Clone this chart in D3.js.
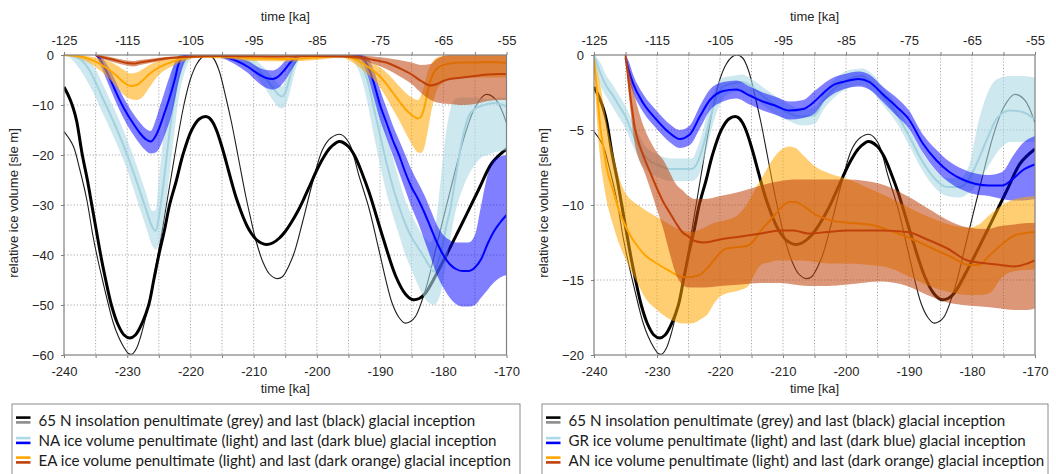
<!DOCTYPE html>
<html>
<head>
<meta charset="utf-8">
<script src="https://cdn.jsdelivr.net/npm/d3@7"></script>
<style>
  body { margin: 0; background: #fff; }
  svg { display: block; }
</style>
</head>
<body>
<svg id="chart" width="1056" height="474"></svg>
<script>
// ---- axis ticks ----------------------------------------------------------
const lastTimeTicks = d3.range(-125, -54, 5);     // last glacial inception (top axis, ka)
const penultTimeTicks = d3.range(-240, -169, 5);  // penultimate glacial inception (bottom axis, ka)
const leftIceTicks = [0, -10, -20, -30, -40, -50, -60];
const rightIceTicks = [0, -5, -10, -15, -20];

// ---- 65 N summer insolation, drawn on a scaled axis [t, value] ------------
const insolationLast = [
  [-125, -6.4], [-124.5, -7.6], [-124, -9.0], [-123.5, -10.8], [-123, -13.2], [-122.1, -20],
  [-121.3, -25], [-120.6, -30], [-119.9, -35], [-119.2, -40], [-118.4, -45], [-117.5, -50],
  [-116.5, -53.8], [-115.5, -56], [-114.6, -56.6], [-113.7, -56], [-112.6, -53.5], [-111.6, -50],
  [-110.8, -45], [-110, -40], [-109.1, -35], [-108.3, -30], [-107.2, -25], [-106.2, -20],
  [-104.8, -15], [-103.6, -12.8], [-102.6, -12.3], [-102, -12.6], [-101.4, -13.6], [-100.8, -15.3],
  [-100.2, -17.6], [-99.6, -20.2], [-99, -23], [-98.4, -25.8], [-97.8, -28.4], [-97.2, -30.6],
  [-96.6, -32.6], [-96, -34.3], [-95.3, -35.8], [-94.6, -36.9], [-93.8, -37.6], [-93, -37.9],
  [-92, -37.6], [-91, -36.7], [-90, -35.3], [-89, -33.4], [-88, -31.2], [-87, -28.6], [-86, -25.8],
  [-85, -23.0], [-84, -20.6], [-83, -18.7], [-82, -17.6], [-81.5, -17.3], [-81, -17.4], [-80, -18.3],
  [-79, -20.2], [-77.8, -23.8], [-76.7, -27.6], [-74.6, -36.3], [-72.5, -44.3], [-71, -47.8],
  [-69.9, -48.9], [-68.8, -48.7], [-67.8, -47.6], [-65.7, -42.9], [-62.5, -34.9], [-59.4, -26.9],
  [-57.3, -21.6], [-55, -18.8]
];
const insolationPenult = [
  [-240, -15.3], [-239.3, -16.5], [-238.5, -18.3], [-237.5, -22.9], [-236.4, -28.9], [-235.4, -36.3],
  [-234.6, -41.2], [-233.8, -45.6], [-233, -49.8], [-232.2, -53.6], [-231.4, -56.3], [-230.6, -58.3],
  [-229.8, -59.7], [-229.2, -59.8], [-228.5, -58.6], [-227.8, -56], [-227, -52], [-226, -46],
  [-225, -39], [-224, -31.5], [-223, -24], [-222, -16.5], [-221, -9.8], [-220, -4.8], [-219, -1.8],
  [-218.2, -0.5], [-217.3, 0], [-216.4, -0.6], [-215.5, -3], [-214.3, -9], [-213.5, -13.5],
  [-212.5, -20], [-211.2, -28.5], [-210.5, -32.5], [-209.6, -37.3], [-208.5, -41.5], [-207.5, -43.8],
  [-206.4, -44.7], [-205.5, -44.4], [-203.8, -40.3], [-202.3, -33.6], [-200.7, -25.6], [-199.1, -18.9],
  [-197.8, -16.6], [-196.2, -15.9], [-194.9, -17.6], [-193.3, -24.3], [-191.7, -30.9], [-190.2, -38.9],
  [-188.1, -49.6], [-187, -52.5], [-186.1, -53.6], [-185.2, -53.3], [-184.4, -52.3], [-182.8, -46.9],
  [-180.7, -36.3], [-178.6, -25.6], [-176.5, -15.6], [-174.9, -10.3], [-173.3, -7.9], [-171.7, -8.9],
  [-170, -13.6]
];

// ---- ice volume [t, median, upper, lower] in sle m ------------------------
// North America
const naPenult = [
  [-240, 0, 0, 0], [-239, -0.1, 0, -0.6], [-238, -0.5, 0, -2.0], [-237, -1.3, -0.2, -3.8],
  [-236, -3.0, -1.0, -6.0], [-235, -5.5, -2.8, -8.5], [-234, -8.3, -5.5, -11.3], [-233, -11.0, -8.2, -14.0],
  [-232, -13.8, -10.9, -16.8], [-231, -16.8, -13.8, -19.8], [-230, -20.0, -17.0, -23.0], [-229, -23.5, -20.3, -26.8],
  [-228, -27.2, -24.0, -30.7], [-227, -31.0, -27.7, -34.5], [-226, -34.5, -31.2, -38.2], [-225.5, -35.2, -31.0, -38.9],
  [-225, -32.5, -25.0, -38.0], [-224.5, -28.0, -19.0, -35.5], [-224, -23.0, -13.0, -31.0], [-223.5, -17.5, -8.0, -26.0],
  [-223, -12.5, -4.0, -20.5], [-222.5, -8.5, -1.5, -15.0], [-222, -5.3, -0.4, -10.0], [-221.5, -3.0, 0, -6.3],
  [-221, -1.5, 0, -3.8], [-220.5, -0.6, 0, -2.0], [-220, -0.1, 0, -0.8], [-219, 0, 0, 0],
  [-214, 0, 0, 0], [-212, -0.5, 0, -1.5], [-210, -2.0, -0.8, -3.5], [-208, -4.8, -3.0, -7.0],
  [-207, -6.5, -4.5, -9.0], [-206, -8.0, -6.0, -10.5], [-205.5, -8.3, -6.3, -10.7], [-205, -7.5, -5.0, -10.2],
  [-204.5, -5.5, -3.0, -8.5], [-204, -3.2, -1.2, -6.0], [-203.5, -1.5, -0.2, -3.5], [-203, -0.5, 0, -1.5],
  [-202.5, 0, 0, -0.4], [-202, 0, 0, 0], [-195, 0, 0, 0], [-194, -0.3, 0, -1.5],
  [-193, -1.8, -0.3, -4.5], [-192, -5.0, -1.5, -9.5], [-191, -10.5, -5.0, -16.0], [-190, -16.0, -10.0, -22.0],
  [-189, -21.5, -15.5, -27.5], [-188, -26.3, -20.5, -32.0], [-187, -30.3, -25.0, -36.0], [-186, -33.8, -29.0, -40.0],
  [-185, -36.5, -32.0, -43.0], [-184, -38.5, -34.5, -46.0], [-183, -40.5, -36.5, -48.5], [-182, -42.6, -37.5, -49.8],
  [-181.5, -43.3, -36.0, -50.0], [-181, -42.0, -32.0, -49.5], [-180.5, -40.0, -26.0, -48.0], [-180, -37.5, -20.0, -45.0],
  [-179.5, -34.0, -15.0, -41.0], [-179, -31.5, -11.5, -37.5], [-178.5, -28.0, -9.5, -34.0], [-178, -24.0, -8.7, -31.0],
  [-177, -16.9, -8.5, -27.0], [-176, -12.3, -8.5, -24.0], [-175, -10.8, -8.5, -22.0], [-174, -10.2, -8.7, -20.5],
  [-173, -9.8, -8.8, -20.0], [-172, -9.6, -8.7, -19.5], [-171, -9.8, -8.5, -19.2], [-170, -10.3, -8.5, -19.0]
];
const naLast = [
  [-120, 0, 0, 0], [-119.5, -0.5, 0, -1.2], [-119, -1.5, -0.5, -2.7], [-118, -4.0, -2.3, -5.8],
  [-117, -6.8, -4.8, -8.8], [-116, -9.5, -7.5, -11.6], [-115, -11.8, -9.8, -14.0], [-114, -13.8, -11.8, -16.0],
  [-113, -15.6, -13.5, -17.8], [-112, -16.9, -14.8, -19.2], [-111.3, -17.3, -15.2, -19.7], [-110.5, -16.2, -13.0, -19.5],
  [-110, -14.8, -11.0, -18.8], [-109, -11.2, -7.0, -15.8], [-108, -7.3, -3.2, -12.0], [-107.3, -4.0, -1.0, -8.0],
  [-107, -2.3, -0.4, -6.0], [-106.5, -0.8, 0, -3.5], [-106, -0.2, 0, -1.6], [-105.5, 0, 0, -0.5],
  [-105, 0, 0, 0], [-101.5, 0, 0, 0], [-100, -0.3, 0, -0.6], [-98, -1.0, -0.3, -1.8],
  [-96, -2.3, -1.2, -3.5], [-94, -4.0, -2.6, -5.8], [-93, -4.6, -3.0, -6.6], [-92, -4.8, -3.1, -6.9],
  [-91, -4.2, -2.5, -6.5], [-90, -2.8, -1.2, -5.0], [-89, -1.2, -0.3, -3.0], [-88, -0.2, 0, -1.0],
  [-87.5, 0, 0, 0], [-79, 0, 0, 0], [-78.5, 0, 0, -0.3], [-78, -0.3, 0, -1.0],
  [-77, -2.0, -0.5, -4.0], [-76, -5.5, -3.0, -8.5], [-75, -10.0, -7.0, -13.0], [-74, -13.5, -10.5, -16.5],
  [-73, -17.0, -14.0, -20.0], [-72, -20.0, -17.0, -23.5], [-71, -23.5, -20.0, -27.0], [-70, -26.5, -23.0, -30.5],
  [-69, -28.8, -25.5, -33.5], [-68, -31.5, -28.0, -37.0], [-67, -34.5, -31.0, -40.5], [-66, -37.5, -34.0, -44.0],
  [-65, -40.0, -36.0, -46.5], [-64, -41.8, -37.0, -48.5], [-63, -42.8, -37.5, -49.8], [-62, -43.2, -37.5, -50.3],
  [-61, -43.2, -37.5, -50.3], [-60, -42.5, -36.0, -50.0], [-59, -40.8, -30.0, -48.5], [-58, -37.8, -24.0, -47.0],
  [-57, -35.3, -21.0, -45.5], [-56, -33.5, -20.3, -44.5], [-55, -32.0, -20.0, -44.0]
];
// Eurasia
const eaPenult = [
  [-240, 0, 0, 0], [-238, -0.2, 0, -0.5], [-236, -0.8, -0.3, -1.6], [-234, -2.0, -0.8, -3.4],
  [-232, -3.8, -1.8, -5.9], [-230.5, -5.5, -3.0, -8.0], [-229.5, -6.2, -3.7, -8.8], [-228.5, -6.0, -3.5, -9.0],
  [-227.5, -5.0, -2.8, -8.3], [-226.5, -3.8, -2.0, -6.5], [-225, -2.5, -1.2, -4.0], [-223, -1.4, -0.6, -2.3],
  [-221, -0.6, -0.2, -1.2], [-219, -0.3, 0, -0.6], [-215, -0.3, 0, -0.7], [-210, -0.7, -0.2, -1.2],
  [-205, -0.8, -0.3, -1.3], [-200, -0.5, -0.1, -1.0], [-196, -0.2, 0, -0.5], [-195, -0.4, 0, -1.0],
  [-194, -0.8, -0.2, -1.8], [-193, -1.5, -0.5, -2.7], [-192, -2.3, -1.0, -3.8], [-191, -3.2, -1.7, -5.0],
  [-190, -4.3, -2.5, -6.5], [-189, -5.8, -3.5, -8.5], [-188, -7.5, -4.8, -10.8], [-187, -9.2, -6.2, -13.0],
  [-186, -10.8, -7.5, -15.5], [-185, -12.0, -8.5, -17.8], [-184, -12.7, -9.0, -19.5], [-183.5, -12.3, -8.0, -19.6],
  [-183, -10.5, -6.0, -18.5], [-182.5, -7.5, -3.5, -15.5], [-182, -5.0, -2.0, -12.0], [-181.5, -3.5, -1.0, -9.0],
  [-181, -2.7, -0.5, -7.0], [-180, -2.0, -0.2, -5.5], [-179, -1.7, 0, -5.0], [-177, -1.5, 0, -4.6],
  [-175, -1.5, 0, -4.5], [-173, -1.4, 0, -4.5], [-171, -1.5, 0, -4.5], [-170, -1.6, 0, -4.5]
];
const eaLast = [
  [-120, 0, 0, 0], [-119, -0.4, -0.1, -0.7], [-117, -1.0, -0.6, -1.5], [-115, -1.6, -1.1, -2.1],
  [-114, -1.7, -1.2, -2.3], [-113, -1.5, -1.0, -2.0], [-111, -1.1, -0.7, -1.5], [-109, -0.7, -0.4, -1.0],
  [-106, -0.4, -0.2, -0.6], [-100, -0.2, 0, -0.4], [-92, -0.3, -0.1, -0.5], [-86, -0.2, 0, -0.4],
  [-80, -0.3, 0, -0.6], [-78, -0.5, -0.1, -1.0], [-76, -1.0, -0.3, -1.8], [-74, -1.5, -0.6, -2.8],
  [-72, -2.6, -1.0, -4.2], [-70, -3.9, -1.5, -5.8], [-68.5, -5.2, -2.0, -7.6], [-67, -6.1, -1.8, -9.0],
  [-66, -5.8, -0.8, -9.5], [-65, -5.2, -0.2, -9.7], [-64, -4.8, 0, -9.8], [-62, -4.5, 0, -10.0],
  [-60, -4.2, 0, -9.8], [-58, -3.9, 0, -9.2], [-56, -3.8, 0, -9.0], [-55, -3.8, 0, -9.0]
];
// Greenland
const grPenult = [
  [-240, 0, 0, -0.3], [-239, -1.2, -0.5, -2.0], [-238, -2.1, -1.4, -2.8], [-237, -2.7, -2.0, -3.5],
  [-236, -3.4, -2.7, -4.2], [-235, -4.1, -3.4, -4.9], [-234, -5.1, -4.3, -5.9], [-233, -6.0, -5.2, -6.8],
  [-232, -6.7, -6.0, -7.5], [-231, -7.1, -6.4, -7.9], [-230, -7.3, -6.6, -8.1], [-228, -7.6, -6.9, -8.4],
  [-226, -7.6, -6.9, -8.4], [-224.5, -7.6, -6.9, -8.4], [-223.5, -7.1, -6.1, -8.1], [-222.5, -5.8, -4.7, -6.9],
  [-221.5, -4.1, -3.1, -5.2], [-220.5, -2.8, -2.0, -3.8], [-219.5, -2.1, -1.5, -2.9], [-218, -1.9, -1.4, -2.5],
  [-216.5, -1.8, -1.3, -2.4], [-215, -2.1, -1.6, -2.7], [-213, -2.8, -2.2, -3.4], [-211, -3.4, -2.8, -4.0],
  [-209, -3.9, -3.3, -4.4], [-207, -4.1, -3.6, -4.7], [-205, -4.0, -3.5, -4.6], [-203.5, -3.0, -2.5, -3.6],
  [-201.5, -2.1, -1.5, -2.7], [-199.5, -1.6, -1.0, -2.2], [-197.5, -1.4, -0.9, -2.0], [-196, -1.8, -1.2, -2.4],
  [-194, -2.8, -2.2, -3.4], [-192, -3.9, -3.3, -4.5], [-190, -5.4, -4.8, -6.0], [-188, -7.0, -6.4, -7.6],
  [-186, -8.2, -7.6, -8.8], [-184, -8.8, -8.2, -9.4], [-182, -8.8, -8.2, -9.5], [-180.5, -8.3, -7.4, -9.2],
  [-179, -7.0, -4.5, -8.5], [-177.5, -5.5, -2.5, -7.5], [-176, -4.2, -1.6, -6.5], [-174, -3.7, -1.4, -5.8],
  [-172, -3.8, -1.4, -5.8], [-170, -4.3, -1.5, -5.8]
];
const grLast = [
  [-120, -0.2, 0, -0.5], [-119.5, -1.0, -0.4, -1.6], [-118.8, -1.9, -1.3, -2.5], [-117.2, -3.2, -2.6, -3.8],
  [-115.1, -4.3, -3.7, -4.9], [-113, -5.2, -4.6, -5.8], [-111.4, -5.6, -5.0, -6.2], [-109.8, -5.3, -4.7, -6.0],
  [-108.2, -4.1, -3.4, -4.9], [-106.6, -3.0, -2.3, -3.7], [-104.5, -2.4, -1.8, -3.1], [-102.4, -2.3, -1.7, -2.9],
  [-100.3, -2.7, -2.1, -3.3], [-98.2, -3.1, -2.5, -3.7], [-96.1, -3.4, -2.8, -4.0], [-94, -3.7, -3.1, -4.3],
  [-91.8, -3.6, -3.0, -4.2], [-90, -3.1, -2.4, -3.9], [-88.5, -2.5, -1.9, -3.1], [-87, -2.0, -1.5, -2.6],
  [-85.5, -1.8, -1.3, -2.3], [-83, -1.6, -1.1, -2.1], [-81.3, -1.8, -1.3, -2.3], [-79.2, -2.6, -2.1, -3.1],
  [-77.1, -3.4, -2.8, -4.0], [-75, -4.3, -3.7, -4.9], [-72.8, -5.9, -5.3, -6.5], [-70.7, -7.0, -6.3, -7.7],
  [-68.6, -7.8, -7.1, -8.5], [-66.5, -8.3, -7.6, -9.0], [-64.4, -8.6, -7.9, -9.3], [-62.3, -8.7, -8.0, -9.4],
  [-60.2, -8.7, -7.8, -9.6], [-58.6, -8.3, -6.8, -9.7], [-57, -7.7, -5.9, -9.7], [-55, -7.3, -5.4, -9.6]
];
// Antarctica
const anPenult = [
  [-240, -0.3, 0, -0.6], [-239.5, -2.5, -1.0, -4.5], [-239, -4.8, -2.0, -7.0], [-238.5, -6.2, -3.3, -8.5],
  [-238, -7.5, -4.5, -9.7], [-237, -9.0, -6.5, -11.3], [-236, -10.4, -8.2, -12.6], [-235, -11.4, -9.2, -13.6],
  [-234, -12.2, -9.7, -14.5], [-233, -12.8, -10.0, -15.3], [-232, -13.3, -10.3, -16.1], [-230, -13.9, -10.8, -17.0],
  [-228, -14.4, -11.3, -17.6], [-226, -14.8, -11.7, -17.9], [-224.5, -14.8, -11.8, -17.9], [-223, -14.6, -11.6, -17.6],
  [-222, -14.2, -11.4, -17.3], [-221, -13.7, -11.2, -16.6], [-220, -13.2, -11.1, -16.1], [-219, -12.9, -11.0, -15.9],
  [-217, -12.8, -10.6, -15.7], [-215.5, -12.7, -9.8, -15.4], [-214.5, -12.3, -9.0, -14.6], [-213.5, -11.7, -8.3, -14.0],
  [-212, -11.0, -7.2, -13.8], [-211, -10.5, -6.6, -13.7], [-209, -9.8, -6.1, -13.7], [-208, -9.8, -6.2, -13.7],
  [-207, -10.0, -6.6, -13.7], [-205, -10.6, -7.4, -13.8], [-202.6, -11.0, -7.9, -13.9], [-199.5, -11.2, -8.3, -13.9],
  [-196.3, -11.3, -8.9, -14.0], [-193.1, -11.7, -9.5, -14.2], [-189.9, -12.2, -10.2, -14.8], [-186.8, -12.8, -10.8, -15.4],
  [-183.6, -13.4, -11.3, -15.8], [-180.5, -14.0, -11.5, -16.0], [-178.9, -14.0, -11.3, -16.0], [-177.3, -13.4, -10.7, -15.9],
  [-175.2, -12.6, -10.0, -14.8], [-173.1, -12.0, -9.6, -14.4], [-170, -11.8, -9.4, -14.3]
];
const anLast = [
  [-120, 0, 0, 0], [-119.5, -1.8, -0.8, -2.5], [-119, -3.5, -1.8, -4.5], [-118.5, -4.9, -2.8, -6.0],
  [-118, -5.7, -3.6, -6.8], [-117, -6.9, -4.9, -7.8], [-116, -7.9, -5.8, -9.0], [-115, -8.9, -6.5, -10.3],
  [-114, -9.8, -7.0, -11.6], [-113, -10.5, -7.8, -13.2], [-112, -11.2, -8.6, -14.6], [-111, -11.8, -9.0, -15.3],
  [-110, -12.1, -9.4, -15.5], [-109, -12.4, -9.6, -15.5], [-107.5, -12.5, -9.6, -15.5], [-105, -12.3, -9.4, -15.4],
  [-101.7, -12.1, -9.1, -15.3], [-98.5, -11.9, -8.7, -15.2], [-95.4, -11.7, -8.4, -15.2], [-93.3, -11.7, -8.3, -15.3],
  [-91, -11.9, -8.3, -15.4], [-88, -11.8, -8.3, -15.4], [-84.8, -11.7, -8.3, -15.3], [-79.5, -11.7, -8.6, -15.1],
  [-75.3, -11.8, -9.4, -15.4], [-72.1, -12.3, -10.2, -16.0], [-68.9, -12.9, -11.0, -16.5], [-65.7, -13.7, -11.5, -16.7],
  [-62.6, -13.9, -11.6, -16.8], [-60.5, -14.0, -11.4, -16.9], [-58.3, -14.1, -11.3, -17.0], [-56.2, -13.9, -11.2, -17.0],
  [-55, -13.7, -11.2, -16.9]
];

// ---- legend text -----------------------------------------------------------
const legendLeft = [
  "65 N insolation penultimate (grey) and last (black) glacial inception",
  "NA ice volume penultimate (light) and last (dark blue) glacial inception",
  "EA ice volume penultimate (light) and last (dark orange) glacial inception"
];
const legendRight = [
  "65 N insolation penultimate (grey) and last (black) glacial inception",
  "GR ice volume penultimate (light) and last (dark blue) glacial inception",
  "AN ice volume penultimate (light) and last (dark orange) glacial inception"
];

// ---- styling ---------------------------------------------------------------
const COL = {
  lightBlue: "#a3d1de", lightBlueBand: "#add8e6",
  darkBlue: "#0000ff",
  lightOrange: "#ffa500",
  darkOrange: "#c0400a",
  frame: "#808080", grid: "#a6a6a6", text: "#262626"
};
const AXIS_FONT = "'Liberation Sans', Arial, Helvetica, sans-serif";
const PLOT_TOP = 55, PLOT_BOTTOM = 355;

const svg = d3.select("#chart");

function drawPanel(opt) {
  const xLast = d3.scaleLinear().domain([-125, -55]).range([opt.x0, opt.x1]);
  const xPen = d3.scaleLinear().domain([-240, -170]).range([opt.x0, opt.x1]);
  const y = d3.scaleLinear().domain([0, opt.yMin]).range([PLOT_TOP, PLOT_BOTTOM]);
  // insolation has its own (unlabelled) scale, shared by both panels
  const yIns = d3.scaleLinear().domain([0, -60]).range([PLOT_TOP, PLOT_BOTTOM]);

  const g = svg.append("g");
  const clipId = "clip-" + opt.id;
  g.append("clipPath").attr("id", clipId).append("rect")
    .attr("x", opt.x0).attr("y", PLOT_TOP)
    .attr("width", opt.x1 - opt.x0).attr("height", PLOT_BOTTOM - PLOT_TOP);

  // dotted grid
  const grid = g.append("g").attr("stroke", COL.grid).attr("stroke-dasharray", "1.2,2").attr("stroke-width", 1);
  grid.selectAll("line.v").data(penultTimeTicks.slice(1, -1)).join("line")
    .attr("x1", d => xPen(d)).attr("x2", d => xPen(d))
    .attr("y1", PLOT_TOP).attr("y2", PLOT_BOTTOM);
  grid.selectAll("line.h").data(opt.yTicks.slice(1, -1)).join("line")
    .attr("x1", opt.x0).attr("x2", opt.x1)
    .attr("y1", d => y(d)).attr("y2", d => y(d));

  // axes
  const styleAxis = sel => {
    sel.attr("font-family", AXIS_FONT).attr("font-size", 13);
    sel.select(".domain").remove();
    sel.selectAll(".tick line").attr("stroke", COL.frame);
    sel.selectAll(".tick text").attr("fill", COL.text);
  };
  g.append("g").attr("transform", `translate(0,${PLOT_BOTTOM})`)
    .call(d3.axisBottom(xPen).tickValues(penultTimeTicks).tickSize(3).tickPadding(9)
      .tickFormat(d => (d % 10 === 0 ? d : "")))
    .call(styleAxis);
  g.append("g").attr("transform", `translate(0,${PLOT_TOP})`)
    .call(d3.axisTop(xLast).tickValues(lastTimeTicks).tickSize(3).tickPadding(7)
      .tickFormat(d => ((d + 125) % 10 === 0 ? d : "")))
    .call(styleAxis);
  g.append("g").attr("transform", `translate(${opt.x0},0)`)
    .call(d3.axisLeft(y).tickValues(opt.yTicks).tickSize(3).tickPadding(7))
    .call(styleAxis);

  // axis titles
  const title = (x, yy, txt, rot) => g.append("text")
    .attr("transform", `translate(${x},${yy})` + (rot ? " rotate(-90)" : ""))
    .attr("text-anchor", "middle").attr("font-family", AXIS_FONT).attr("font-size", 13)
    .attr("fill", COL.text).text(txt);
  const xc = (opt.x0 + opt.x1) / 2;
  title(xc, 21, "time [ka]");
  title(xc, 393, "time [ka]");
  title(opt.x0 - 46, 203, "relative ice volume [sle m]", true);

  const plot = g.append("g").attr("clip-path", `url(#${clipId})`);

  // insolation curves (penultimate thin, last thick)
  const insLine = x => d3.line().x(d => x(d[0])).y(d => yIns(d[1])).curve(d3.curveCatmullRom.alpha(0.5));
  plot.append("path").datum(insolationPenult).attr("d", insLine(xPen))
    .attr("fill", "none").attr("stroke", "#1e1e1e").attr("stroke-width", 1.1);
  plot.append("path").datum(insolationLast).attr("d", insLine(xLast))
    .attr("fill", "none").attr("stroke", "#000").attr("stroke-width", 3);

  // ice volume: uncertainty band + median line
  const ice = (data, x, lineColor, bandColor, bandOpacity, width) => {
    const area = d3.area().x(d => x(d[0])).y0(d => y(d[3])).y1(d => y(d[2])).curve(d3.curveMonotoneX);
    const line = d3.line().x(d => x(d[0])).y(d => y(d[1])).curve(d3.curveMonotoneX);
    plot.append("path").datum(data).attr("d", area)
      .attr("fill", bandColor).attr("fill-opacity", bandOpacity).attr("stroke", "none");
    plot.append("path").datum(data).attr("d", line)
      .attr("fill", "none").attr("stroke", lineColor).attr("stroke-width", width);
  };
  ice(opt.bluePen, xPen, COL.lightBlue, COL.lightBlueBand, 0.6, 2);
  ice(opt.blueLast, xLast, COL.darkBlue, COL.darkBlue, 0.5, 2);
  ice(opt.orangePen, xPen, COL.lightOrange, COL.lightOrange, 0.55, 2);
  ice(opt.orangeLast, xLast, COL.darkOrange, COL.darkOrange, 0.55, 2);

  // frame
  g.append("rect").attr("x", opt.x0).attr("y", PLOT_TOP)
    .attr("width", opt.x1 - opt.x0).attr("height", PLOT_BOTTOM - PLOT_TOP)
    .attr("fill", "none").attr("stroke", COL.frame).attr("stroke-width", 1.2);
}

drawPanel({ id: "left", x0: 64, x1: 506.5, yMin: -60, yTicks: leftIceTicks,
  bluePen: naPenult, blueLast: naLast, orangePen: eaPenult, orangeLast: eaLast });
drawPanel({ id: "right", x0: 594, x1: 1035, yMin: -20, yTicks: rightIceTicks,
  bluePen: grPenult, blueLast: grLast, orangePen: anPenult, orangeLast: anLast });

// ---- legends ---------------------------------------------------------------
const LEGEND_FONT = "Lato, 'Open Sans', sans-serif";
const swatchPairs = [["#000000", "#8c8c8c"], [COL.lightBlueBand, COL.darkBlue], [COL.lightOrange, COL.darkOrange]];

function drawLegend(x0, x1, labels) {
  const g = svg.append("g");
  g.append("rect").attr("x", x0).attr("y", 404).attr("width", x1 - x0).attr("height", 90)
    .attr("fill", "#fff").attr("stroke", "#8c8c8c").attr("stroke-width", 1);
  const rows = [420, 440.5, 460];
  labels.forEach((txt, i) => {
    const cy = rows[i];
    g.append("line").attr("x1", x0 + 4).attr("x2", x0 + 18.5).attr("y1", cy - 2.4).attr("y2", cy - 2.4)
      .attr("stroke", swatchPairs[i][0]).attr("stroke-width", 2.6);
    g.append("line").attr("x1", x0 + 4).attr("x2", x0 + 18.5).attr("y1", cy + 2.4).attr("y2", cy + 2.4)
      .attr("stroke", swatchPairs[i][1]).attr("stroke-width", 2.6);
    g.append("text").attr("class", "legend-text").attr("x", x0 + 26.5).attr("y", cy + 5.5)
      .attr("font-family", LEGEND_FONT).attr("font-size", 15).attr("fill", "#1a1a1a").text(txt);
  });
  return g;
}
const lgL = drawLegend(12, 520, legendLeft);
const lgR = drawLegend(542, 1048, legendRight);

// fit legend type size so the first entry spans its usual width
[lgL, lgR].forEach(lg => {
  const first = lg.select("text.legend-text").node();
  const w = first.getComputedTextLength();
  const size = 15 * 437 / w;
  lg.selectAll("text.legend-text").attr("font-size", size.toFixed(2));
});
</script>
</body>
</html>
